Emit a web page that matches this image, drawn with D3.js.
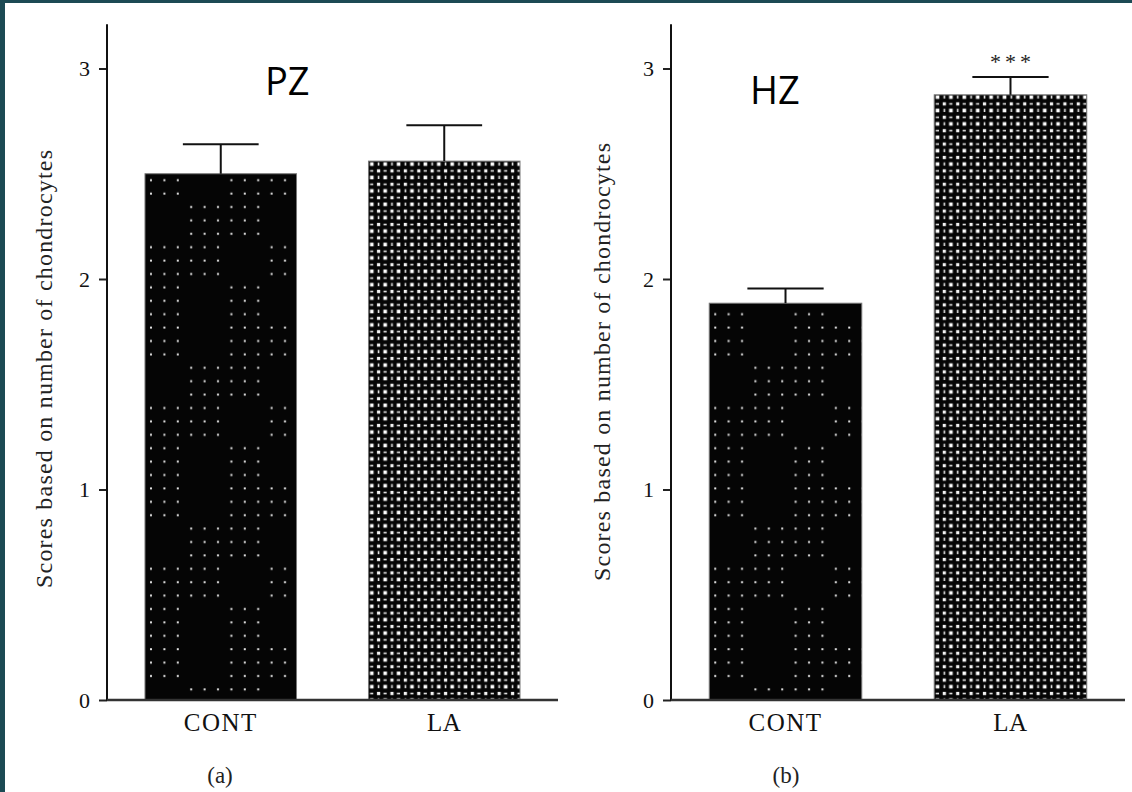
<!DOCTYPE html>
<html><head><meta charset="utf-8">
<script src="https://cdn.jsdelivr.net/npm/d3@7"></script>
<style>html,body{margin:0;padding:0;background:#1c4a54;}svg{display:block;}</style>
</head><body>
<script>
// ---- data ----
const categories = ["CONT", "LA"];
const panelIds = ["(a)", "(b)"];
const zoneLabels = ["PZ", "HZ"];
const meansPZ = [2.50, 2.56];
const errorsPZ = [0.14, 0.17];
const meansHZ = [1.885, 2.875];
const errorsHZ = [0.07, 0.085];
const sigHZ = ["", "***"];
const sigPZ = ["", ""];
const yTicks = [0, 1, 2, 3];
const yTitle = "Scores based on number of chondrocytes";

const W = 1132, H = 792;
const svg = d3.select("body").append("svg").attr("width", W).attr("height", H);
svg.append("rect").attr("width", W).attr("height", H).attr("fill", "#1c4a54");
svg.append("rect").attr("x", 5).attr("y", 3).attr("width", W - 5).attr("height", H - 3).attr("fill", "#fff");

const defs = svg.append("defs");
const sp = 13.4, blk = sp * 3, nb = 4;
const blockMask = [1,0,1,1, 0,1,1,0, 1,1,0,1, 1,0,1,0];
function makeSparse(id, offx, offy) {
  const p = defs.append("pattern").attr("id", id).attr("patternUnits", "userSpaceOnUse")
    .attr("x", offx).attr("y", offy).attr("width", blk * nb).attr("height", blk * nb);
  p.append("rect").attr("width", blk * nb).attr("height", blk * nb).attr("fill", "#050505");
  for (let bi = 0; bi < nb; bi++) for (let bj = 0; bj < nb; bj++) {
    if (!blockMask[bj * nb + bi]) continue;
    for (let i = 0; i < 3; i++) for (let j = 0; j < 3; j++) {
      p.append("rect").attr("x", bi * blk + i * sp + 5).attr("y", bj * blk + j * sp + 5)
        .attr("width", 2).attr("height", 2).attr("fill", "#e4e4e4");
    }
  }
}
function makeDense(id, offx, offy) {
  const s = 13.4;
  const p = defs.append("pattern").attr("id", id).attr("patternUnits", "userSpaceOnUse")
    .attr("x", offx).attr("y", offy).attr("width", s).attr("height", s);
  p.append("rect").attr("width", s).attr("height", s).attr("fill", "#050505");
  p.append("rect").attr("x", 1.5).attr("y", 1.5).attr("width", 3.6).attr("height", 3.6).attr("fill", "#fff");
  p.append("rect").attr("x", 8.5).attr("y", 8.5).attr("width", 3.2).attr("height", 3.2).attr("fill", "#f4f4f4");
  p.append("rect").attr("x", 9.3).attr("y", 1.6).attr("width", 1.6).attr("height", 3.2).attr("fill", "#e6e6e6");
  p.append("rect").attr("x", 1.6).attr("y", 9.3).attr("width", 3.2).attr("height", 1.6).attr("fill", "#e6e6e6");
}

const y = d3.scaleLinear().domain([0, 3]).range([700, 68.5]);
const yTop = y(3.21);

const panels = [
  { axisX: 107, axisEnd: 558, means: meansPZ, errs: errorsPZ, sig: sigPZ, label: zoneLabels[0], lx: 265, ly: 95, id: panelIds[0], idx: 220, titleX: 52, titleY: 369 },
  { axisX: 671, axisEnd: 1125, means: meansHZ, errs: errorsHZ, sig: sigHZ, label: zoneLabels[1], lx: 750, ly: 104, id: panelIds[1], idx: 786, titleX: 610, titleY: 362 }
];

panels.forEach((P, pi) => {
  const x = d3.scaleBand().domain(categories).range([P.axisX, P.axisEnd]).paddingInner(0.322).paddingOuter(0.17);
  makeSparse("sparse" + pi, x("CONT"), 0);
  makeDense("dense" + pi, x("LA"), 0);
  const g = svg.append("g");
  const data = categories.map((c, i) => ({ c, v: P.means[i], e: P.errs[i], s: P.sig[i] }));

  g.selectAll("rect.bar").data(data).enter().append("rect")
    .attr("x", d => x(d.c)).attr("y", d => y(d.v))
    .attr("width", x.bandwidth()).attr("height", d => y(0) - y(d.v))
    .attr("fill", (d, i) => i === 0 ? `url(#sparse${pi})` : `url(#dense${pi})`)
    .attr("stroke", "#777").attr("stroke-width", 1);

  const capW = x.bandwidth() * 0.5;
  g.selectAll("line.eb").data(data).enter().append("line")
    .attr("x1", d => x(d.c) + x.bandwidth() / 2).attr("x2", d => x(d.c) + x.bandwidth() / 2)
    .attr("y1", d => y(d.v)).attr("y2", d => y(d.v + d.e))
    .attr("stroke", "#111").attr("stroke-width", 2);
  g.selectAll("line.cap").data(data).enter().append("line")
    .attr("x1", d => x(d.c) + x.bandwidth() / 2 - capW / 2).attr("x2", d => x(d.c) + x.bandwidth() / 2 + capW / 2)
    .attr("y1", d => y(d.v + d.e)).attr("y2", d => y(d.v + d.e))
    .attr("stroke", "#111").attr("stroke-width", 2);
  g.selectAll("text.sig").data(data.filter(d => d.s)).enter().append("text")
    .attr("x", d => x(d.c) + x.bandwidth() / 2 + 2).attr("y", d => y(d.v + d.e) - 8)
    .attr("text-anchor", "middle").attr("font-family", "Liberation Serif, serif")
    .attr("font-size", 22).attr("letter-spacing", 4).attr("fill", "#222").text(d => d.s);

  const ya = d3.axisLeft(y).tickValues(yTicks).tickSize(8).tickPadding(9).tickFormat(d3.format("d"));
  const yg = g.append("g").attr("transform", `translate(${P.axisX},0)`).call(ya);
  yg.select(".domain").remove();
  yg.selectAll(".tick line").attr("stroke", "#222").attr("stroke-width", 2);
  yg.selectAll(".tick text").attr("font-family", "Liberation Serif, serif").attr("font-size", 22).attr("fill", "#111");
  g.append("line").attr("x1", P.axisX).attr("x2", P.axisX).attr("y1", yTop).attr("y2", y(0) + 1)
    .attr("stroke", "#111").attr("stroke-width", 2);

  const xa = d3.axisBottom(x).tickSize(0).tickPadding(13);
  const xg = g.append("g").attr("transform", `translate(0,${y(0)})`).call(xa);
  xg.select(".domain").remove();
  xg.selectAll(".tick text").attr("font-family", "Liberation Serif, serif").attr("font-size", 25).attr("fill", "#111")
    .attr("letter-spacing", d => d === "CONT" ? 1.5 : 0.5);
  g.append("line").attr("x1", P.axisX).attr("x2", P.axisEnd).attr("y1", y(0)).attr("y2", y(0))
    .attr("stroke", "#333").attr("stroke-width", 2.5);

  g.append("text").attr("transform", `translate(${P.titleX},${P.titleY}) rotate(-90)`)
    .attr("text-anchor", "middle").attr("font-family", "Liberation Serif, serif").attr("font-size", 24)
    .attr("textLength", 438).attr("lengthAdjust", "spacing").attr("fill", "#222").text(yTitle);

  g.append("text").attr("x", P.lx).attr("y", P.ly).attr("font-family", "Open Sans, sans-serif")
    .attr("font-size", 38).attr("fill", "#000").text(P.label);

  g.append("text").attr("x", P.idx).attr("y", 783).attr("text-anchor", "middle")
    .attr("font-family", "Liberation Serif, serif").attr("font-size", 23).attr("fill", "#222").text(P.id);
});
</script>
</body></html>
